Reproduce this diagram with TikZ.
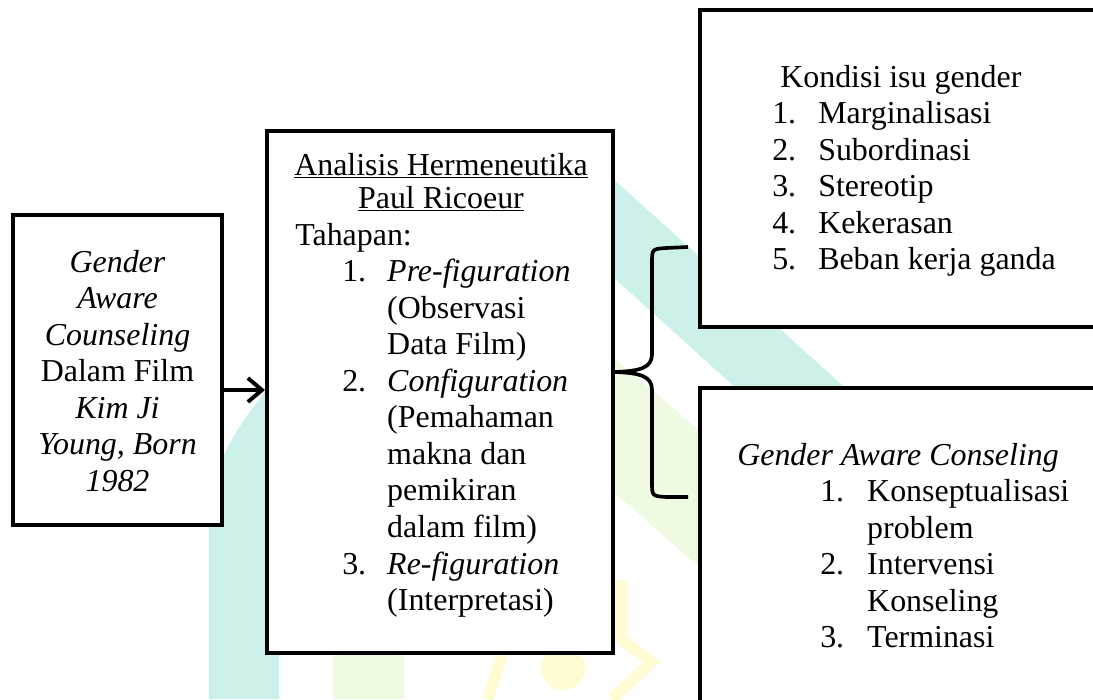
\documentclass[tikz,border=0pt]{standalone}
\usepackage{fontspec}
\setmainfont{Liberation Serif}
\usetikzlibrary{arrows.meta,shadows}

\definecolor{wmteal}{HTML}{CCF1EA}
\definecolor{wmgreen}{HTML}{EEFAE2}
\definecolor{wmyellow}{HTML}{FFFBD2}
\newcommand{\wordfont}{\fontsize{22.7pt}{26pt}\selectfont}

\tikzset{
  box/.style={draw, line width=2.8pt, fill=white, inner sep=0pt,
    drop shadow={opacity=0.2, shadow xshift=1.2pt, shadow yshift=-1.2pt}},
  txt/.style={inner sep=0pt, font=\wordfont},
}

\begin{document}
\begin{tikzpicture}[x=0.025cm, y=-0.025cm]
\useasboundingbox (0,0) rectangle (1093,699);
\clip (0,0) rectangle (1093,699);
\fill[white] (0,0) rectangle (1093,699);

% watermark
\fill[wmteal] (560,131) -- (900,437) -- (790,437) -- (560,229) -- cycle;
\fill[wmteal] (209,699) -- (209,520) .. controls (209,470) and (235,425) .. (280,375)
  -- (330,410) .. controls (295,450) and (279,495) .. (279,540) -- (279,699) -- cycle;
\fill[wmgreen] (600,346) -- (760,482) -- (760,620) -- (600,480) -- cycle;
\fill[wmgreen] (333,640) rectangle (404,699);
\draw[wmyellow, line width=8] (622,580) -- (622,640) -- (652,662) -- (612,699);
\draw[wmyellow, line width=8] (505,645) -- (488,699);
\fill[wmyellow] (563,668) circle[radius=22];

% boxes
\node[box, minimum width=5.225cm, minimum height=7.75cm] (film) at (117.5,370) {};
\node[box, minimum width=8.65cm, minimum height=13.05cm] (hermen) at (440,392) {};
\node[box, minimum width=10.5cm, minimum height=7.925cm] (isu) at (910,168.5) {};
\node[box, minimum width=10.5cm, minimum height=8.3cm] (gac) at (910,554) {};

% texts
\node[txt, anchor=base] (filmtxt) at (117.5,272) {\begin{tabular}[t]{@{}c@{}}
  \textit{Gender}\\ \textit{Aware}\\ \textit{Counseling}\\ Dalam Film\\
  \textit{Kim Ji}\\ \textit{Young, Born}\\ \textit{1982}\end{tabular}};

\node[txt, anchor=base] (titel) at (441,175) {\begin{tabular}[t]{@{}c@{}}
  \underline{Analisis Hermeneutika}\\[-2.5pt] \underline{Paul Ricoeur}\end{tabular}};

\node[txt, anchor=base west] (tahap) at (295,245) {\begin{tabular}[t]{@{}p{33.4pt}@{}p{32pt}@{}l@{}}
  \multicolumn{3}{@{}l@{}}{Tahapan:}\\
  & 1. & \textit{Pre-figuration}\\
  & & (Observasi\\
  & & Data Film)\\
  & 2. & \textit{Configuration}\\
  & & (Pemahaman\\
  & & makna dan\\
  & & pemikiran\\
  & & dalam film)\\
  & 3. & \textit{Re-figuration}\\
  & & (Interpretasi)\end{tabular}};

\node[txt, anchor=base west] (kondisi) at (772,87) {\begin{tabular}[t]{@{}p{32.7pt}@{}l@{}}
  \multicolumn{2}{@{\hspace{5.7pt}}l@{}}{Kondisi isu gender}\\
  1. & Marginalisasi\\
  2. & Subordinasi\\
  3. & Stereotip\\
  4. & Kekerasan\\
  5. & Beban kerja ganda\end{tabular}};

\node[txt, anchor=base west] (gactxt) at (737,465) {\begin{tabular}[t]{@{}p{59pt}@{}p{33.4pt}@{}l@{}}
  \multicolumn{3}{@{}l@{}}{\textit{Gender Aware Conseling}}\\
  & 1. & Konseptualisasi\\
  & & problem\\
  & 2. & Intervensi\\
  & & Konseling\\
  & 3. & Terminasi\end{tabular}};

% arrow
\draw[line width=2.8pt, -{Straight Barb[length=10pt,width=17pt]}] (film.east |- 0,390) -- (hermen.west |- 0,390);

% brace
\coordinate (bracetop) at (688,247);
\coordinate (bracetip) at (hermen.east |- 0,372);
\coordinate (bracebot) at (688,497);
\draw[line width=2.6pt] (bracetop) -- (666,248) .. controls (652,249) .. (652,263) -- (652,354)
  .. controls (652,368) and (640,371) .. (bracetip)
  .. controls (640,373) and (652,376) .. (652,390) -- (652,482)
  .. controls (652,496) .. (666,497) -- (bracebot);
\end{tikzpicture}
\end{document}
